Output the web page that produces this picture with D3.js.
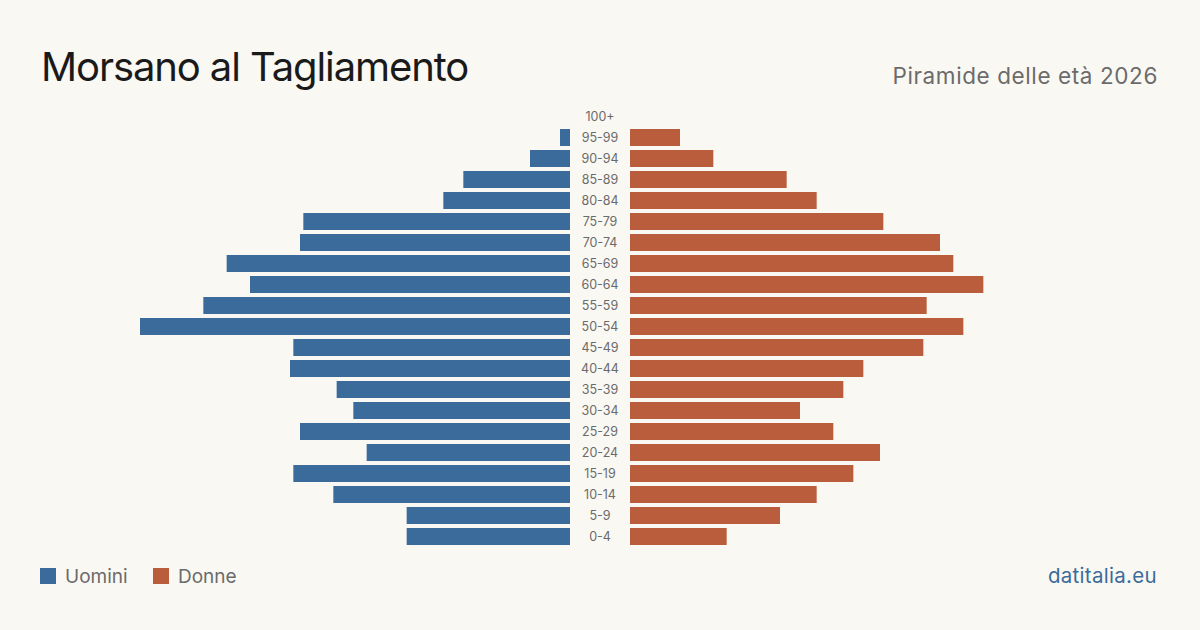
<!DOCTYPE html>
<html>
<head>
<meta charset="utf-8">
<script src="https://cdn.jsdelivr.net/npm/d3@7"></script>
<style>
  html, body { margin: 0; padding: 0; background: #faf8f3; }
  svg { display: block; }
  text { font-family: Inter, "Noto Sans", sans-serif; }
</style>
</head>
<body>
<svg id="chart" width="1200" height="630"></svg>
<script>
const ageGroups = ["0-4","5-9","10-14","15-19","20-24","25-29","30-34","35-39","40-44","45-49","50-54","55-59","60-64","65-69","70-74","75-79","80-84","85-89","90-94","95-99","100+"];
const men   = [49, 49, 71, 83, 61, 81, 65, 70, 84, 83, 129, 110, 96, 103, 81, 80, 38, 32, 12, 3, 0];
const women = [29, 45, 56, 67, 75, 61, 51, 64, 70, 88, 100, 89, 106, 97, 93, 76, 56, 47, 25, 15, 0];
const title = "Morsano al Tagliamento";
const subtitle = "Piramide delle età 2026";
const legendLabels = ["Uomini", "Donne"];
const source = "datitalia.eu";

const colors = { men: "#3b6b9b", women: "#b95d3d", bg: "#faf8f3" };

const svg = d3.select("#chart");
svg.append("rect").attr("width", 1200).attr("height", 630).attr("fill", colors.bg);

const maxVal = d3.max([...men, ...women]);
const xMen = d3.scaleLinear().domain([0, maxVal]).range([570, 140]);
const xWomen = d3.scaleLinear().domain([0, maxVal]).range([630, 1060]);
const y = d3.scaleBand()
  .domain(ageGroups.slice().reverse())
  .range([106, 547])
  .paddingInner(4/21)
  .paddingOuter(2/21);

const data = ageGroups.map((g, i) => ({ g, m: men[i], w: women[i] }));

svg.append("g").selectAll("rect").data(data).join("rect")
  .attr("x", d => xMen(d.m))
  .attr("y", d => y(d.g))
  .attr("width", d => xMen(0) - xMen(d.m))
  .attr("height", y.bandwidth())
  .attr("fill", colors.men);

svg.append("g").selectAll("rect").data(data).join("rect")
  .attr("x", xWomen(0))
  .attr("y", d => y(d.g))
  .attr("width", d => xWomen(d.w) - xWomen(0))
  .attr("height", y.bandwidth())
  .attr("fill", colors.women);

svg.append("g").selectAll("text").data(data).join("text")
  .attr("x", 600)
  .attr("y", d => y(d.g) + y.bandwidth() / 2)
  .attr("dy", "0.35em")
  .attr("text-anchor", "middle")
  .attr("font-size", 12.5)
  .attr("fill", "#6b6b6b")
  .text(d => d.g);

svg.append("text")
  .attr("x", 41).attr("y", 81)
  .attr("font-size", 40)
  .attr("letter-spacing", -1.1)
  .attr("fill", "#1a1a1a")
  .text(title);

svg.append("text")
  .attr("x", 1158).attr("y", 84)
  .attr("text-anchor", "end")
  .attr("font-size", 22.5)
  .attr("letter-spacing", 0.6)
  .attr("fill", "#6b6b6b")
  .text(subtitle);

const legend = svg.append("g");
const legX = [40, 153];
[colors.men, colors.women].forEach((c, i) => {
  legend.append("rect").attr("x", legX[i]).attr("y", 568).attr("width", 16).attr("height", 16).attr("fill", c);
  legend.append("text").attr("x", legX[i] + 25).attr("y", 583)
    .attr("font-size", 19).attr("fill", "#6b6b6b").text(legendLabels[i]);
});

svg.append("text")
  .attr("x", 1157).attr("y", 583)
  .attr("text-anchor", "end")
  .attr("font-size", 20.5)
  .attr("letter-spacing", 0.3)
  .attr("fill", colors.men)
  .text(source);
</script>
</body>
</html>
